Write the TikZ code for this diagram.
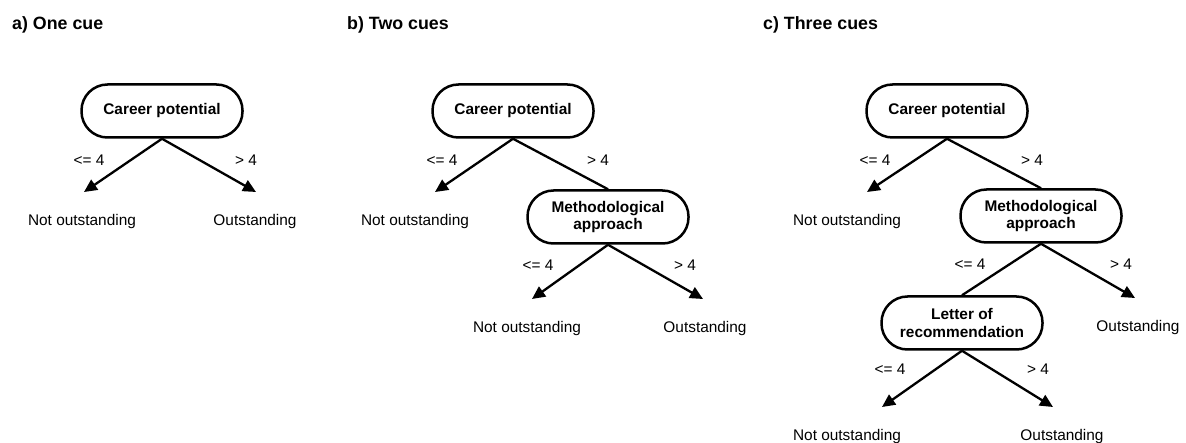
\documentclass[tikz,border=0pt]{standalone}
\usepackage{fontspec}
\setmainfont{Liberation Sans}
\usetikzlibrary{arrows, arrows.meta}

\begin{document}
\begin{tikzpicture}[x = 1pt, y = -1pt]
\tikzstyle{CueStyle}=[draw, rectangle,
                      rounded corners = 26pt,
                      line width = 2.5pt,
                      minimum width = 161pt,
                      minimum height = 53pt,
                      inner sep = 0pt, align = center,
                      font = \fontsize{15.4}{17.7}\selectfont\bfseries]
\tikzstyle{LeafStyle}=[anchor = north, inner xsep = 0pt, inner ysep = 22pt,
                       font = \fontsize{15.4}{17.7}\selectfont]
\tikzstyle{LabelStyle}=[inner sep = 0pt, font = \fontsize{15.4}{17.7}\selectfont]
\tikzstyle{TitleStyle}=[anchor = west, inner sep = 0pt,
                        font = \fontsize{17.8}{20}\selectfont\bfseries]
\tikzstyle{EdgeStyle}=[line width = 2.3pt, -{Triangle[length = 13pt, width = 12pt]}]
\tikzstyle{LinkStyle}=[line width = 2.3pt]
\useasboundingbox (0,0) rectangle (1186,443);

% a) one cue
\node[TitleStyle] (aTitle) at (12, 25) {a) One cue};
\node[CueStyle] (aCareer) at (162, 111) {Career potential};
\node[LeafStyle] (aNot) at (82, 192) {Not outstanding};
\node[LeafStyle] (aOut) at (255, 192) {Outstanding};
\node[LabelStyle] (aLow) at (89, 160) {<= 4};
\node[LabelStyle] (aHigh) at (246, 160) {> 4};
\draw[EdgeStyle] (aCareer.south) -- ([xshift = 2pt]aNot.north);
\draw[EdgeStyle] (aCareer.south) -- ([xshift = 1pt]aOut.north);

% b) two cues
\node[TitleStyle] (bTitle) at (347, 25) {b) Two cues};
\node[CueStyle] (bCareer) at (513, 111) {Career potential};
\node[CueStyle] (bMethod) at (608, 217) {Methodological\\approach};
\node[LeafStyle] (bNot) at (415, 192) {Not outstanding};
\node[LeafStyle] (bNot2) at (527, 299) {Not outstanding};
\node[LeafStyle] (bOut) at (705, 299) {Outstanding};
\node[LabelStyle] (bLow) at (442, 160) {<= 4};
\node[LabelStyle] (bHigh) at (598, 160) {> 4};
\node[LabelStyle] (bLow2) at (538, 265) {<= 4};
\node[LabelStyle] (bHigh2) at (685, 265) {> 4};
\draw[EdgeStyle] (bCareer.south) -- ([xshift = 20pt]bNot.north);
\draw[LinkStyle] (bCareer.south) -- (bMethod.north);
\draw[EdgeStyle] (bMethod.south) -- ([xshift = 5pt]bNot2.north);
\draw[EdgeStyle] (bMethod.south) -- ([xshift = -2pt]bOut.north);

% c) three cues
\node[TitleStyle] (cTitle) at (763, 25) {c) Three cues};
\node[CueStyle] (cCareer) at (947, 111) {Career potential};
\node[CueStyle] (cMethod) at (1041, 216) {Methodological\\approach};
\node[CueStyle] (cLetter) at (962, 323) {Letter of\\recommendation};
\node[LeafStyle] (cNot) at (847, 192) {Not outstanding};
\node[LeafStyle] (cOut) at (1138, 298) {Outstanding};
\node[LeafStyle] (cNot2) at (847, 407) {Not outstanding};
\node[LeafStyle] (cOut2) at (1062, 407) {Outstanding};
\node[LabelStyle] (cLow) at (875, 160) {<= 4};
\node[LabelStyle] (cHigh) at (1032, 160) {> 4};
\node[LabelStyle] (cLow2) at (970, 264) {<= 4};
\node[LabelStyle] (cHigh2) at (1121, 264) {> 4};
\node[LabelStyle] (cLow3) at (890, 369) {<= 4};
\node[LabelStyle] (cHigh3) at (1038, 369) {> 4};
\draw[EdgeStyle] (cCareer.south) -- ([xshift = 20pt]cNot.north);
\draw[LinkStyle] (cCareer.south) -- (cMethod.north);
\draw[LinkStyle] (cMethod.south) -- (cLetter.north);
\draw[EdgeStyle] (cMethod.south) -- ([xshift = -3pt]cOut.north);
\draw[EdgeStyle] (cLetter.south) -- ([xshift = 35pt]cNot2.north);
\draw[EdgeStyle] (cLetter.south) -- ([xshift = -9pt]cOut2.north);
\end{tikzpicture}
\end{document}
